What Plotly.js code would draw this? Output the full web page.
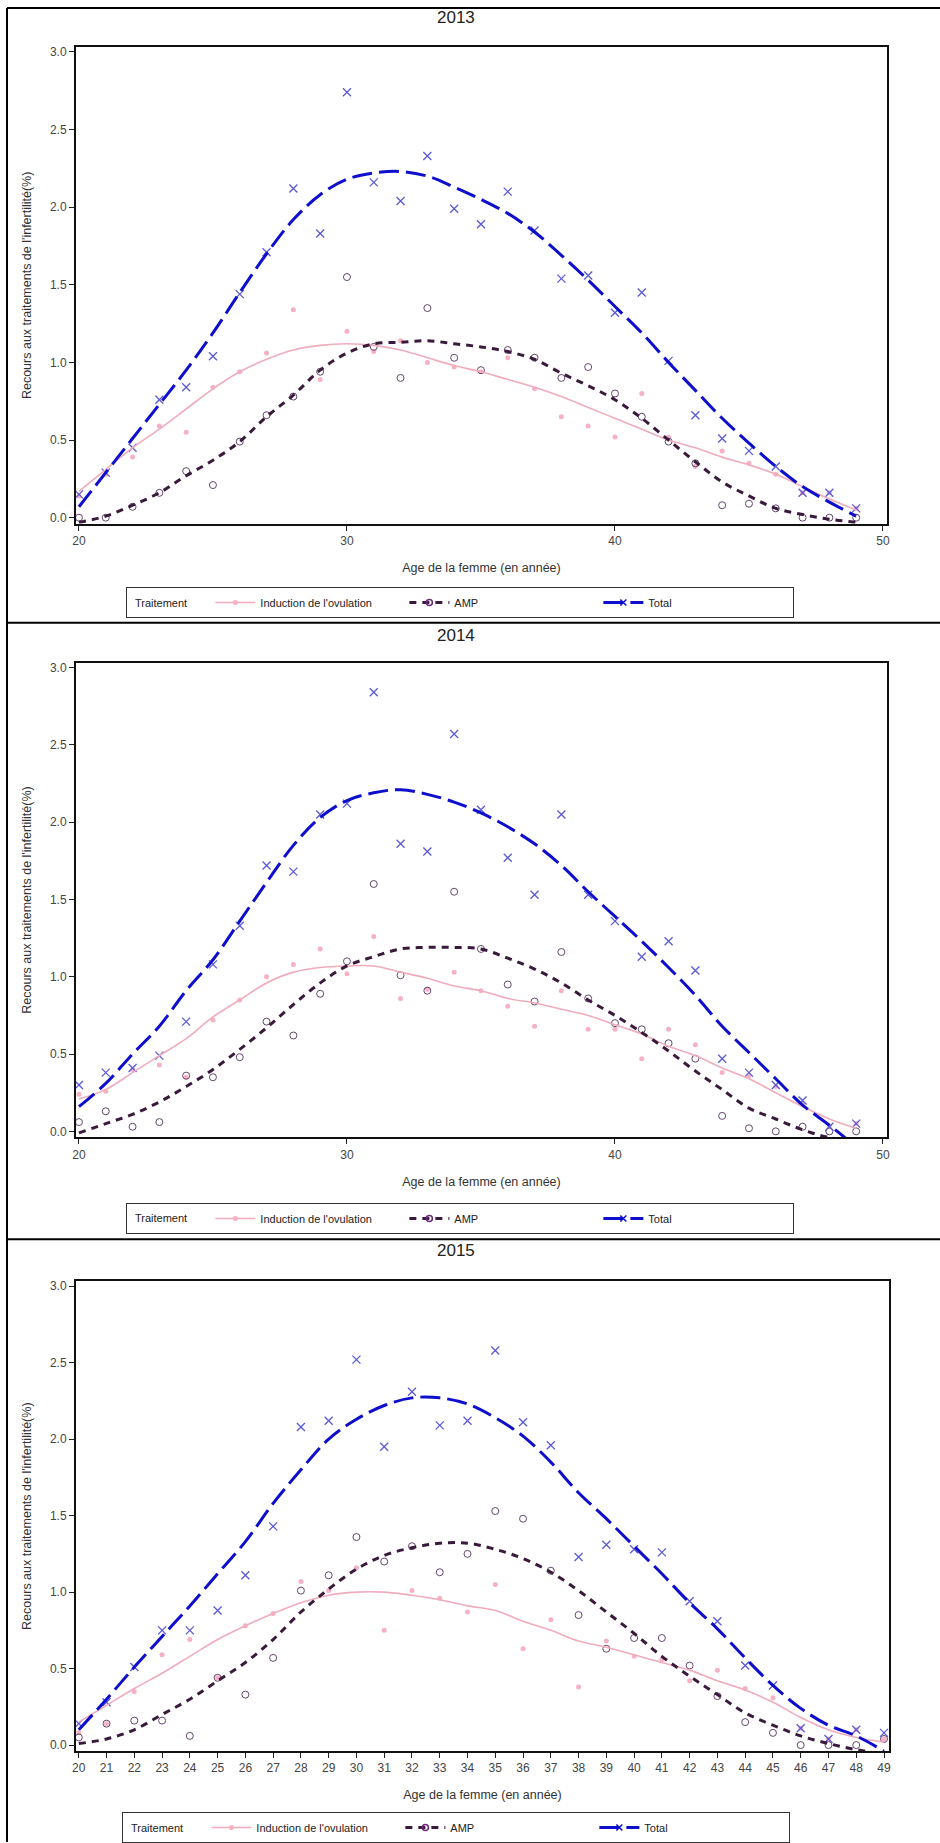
<!DOCTYPE html>
<html><head><meta charset="utf-8">
<script src="https://cdn.plot.ly/plotly-3.0.1.min.js"></script>
<style>html,body{margin:0;padding:0;background:#fff}#chart{width:940px;height:1843px}</style>
</head><body><div id="chart"></div>
<script>
// ---------- DATA ----------
const ages = [20,21,22,23,24,25,26,27,28,29,30,31,32,33,34,35,36,37,38,39,40,41,42,43,44,45,46,47,48,49];
const years = ['2013','2014','2015'];
const seriesNames = ["Induction de l'ovulation", 'AMP', 'Total'];
const legendTitle = 'Traitement';
const xTitle = 'Age de la femme (en année)';
const yTitle = "Recours aux traitements de l'infertilité(%)";
const yTicks = [0, 0.5, 1, 1.5, 2, 2.5, 3];
const xTicksCoarse = [20, 30, 40, 50];

// 2013 observed points
const induction2013 = [0.14,0.28,0.39,0.59,0.55,0.84,0.94,1.06,1.34,0.89,1.20,1.07,1.14,1.00,0.97,0.94,1.03,0.83,0.65,0.59,0.52,0.80,0.52,0.33,0.43,0.35,0.28,0.16,0.16,0.06];
const amp2013       = [0.00,0.00,0.07,0.16,0.30,0.21,0.49,0.66,0.78,0.94,1.55,1.10,0.90,1.35,1.03,0.95,1.08,1.03,0.90,0.97,0.80,0.65,0.49,0.35,0.08,0.09,0.06,0.00,0.00,0.00];
const total2013     = [0.15,0.29,0.45,0.76,0.84,1.04,1.44,1.71,2.12,1.83,2.74,2.16,2.04,2.33,1.99,1.89,2.10,1.85,1.54,1.56,1.32,1.45,1.01,0.66,0.51,0.43,0.33,0.16,0.16,0.06];
// 2013 smoothed curves
const inductionFit2013 = [0.17,0.31,0.45,0.57,0.70,0.83,0.94,1.02,1.08,1.11,1.12,1.11,1.08,1.03,0.98,0.94,0.89,0.84,0.78,0.71,0.64,0.57,0.50,0.45,0.39,0.34,0.28,0.20,0.12,0.05];
const ampFit2013       = [-0.03,0.01,0.08,0.16,0.27,0.37,0.49,0.65,0.79,0.95,1.06,1.12,1.13,1.14,1.12,1.10,1.07,1.02,0.93,0.85,0.76,0.64,0.50,0.36,0.23,0.14,0.06,0.02,-0.01,-0.03];
const totalFit2013     = [0.07,0.29,0.51,0.73,0.95,1.19,1.45,1.70,1.92,2.08,2.18,2.22,2.23,2.20,2.13,2.05,1.96,1.84,1.69,1.53,1.36,1.19,1.00,0.82,0.64,0.48,0.33,0.20,0.10,0.01];

// 2014 observed points
const induction2014 = [0.24,0.26,0.40,0.43,0.35,0.72,0.85,1.00,1.08,1.18,1.02,1.26,0.86,0.92,1.03,0.91,0.81,0.68,0.91,0.66,0.66,0.47,0.66,0.56,0.38,0.36,0.29,0.18,0.03,0.05];
const amp2014       = [0.06,0.13,0.03,0.06,0.36,0.35,0.48,0.71,0.62,0.89,1.10,1.60,1.01,0.91,1.55,1.18,0.95,0.84,1.16,0.86,0.70,0.66,0.57,0.47,0.10,0.02,0.00,0.03,0.00,0.00];
const total2014     = [0.30,0.38,0.41,0.49,0.71,1.08,1.33,1.72,1.68,2.05,2.12,2.84,1.86,1.81,2.57,2.08,1.77,1.53,2.05,1.53,1.36,1.13,1.23,1.04,0.47,0.38,0.30,0.20,0.03,0.05];
// 2014 smoothed curves
const inductionFit2014 = [0.21,0.27,0.38,0.49,0.60,0.74,0.85,0.96,1.03,1.06,1.07,1.07,1.03,0.99,0.94,0.91,0.86,0.83,0.79,0.75,0.69,0.63,0.55,0.49,0.41,0.34,0.25,0.16,0.08,0.02];
const ampFit2014       = [-0.01,0.05,0.11,0.19,0.29,0.40,0.53,0.67,0.82,0.96,1.07,1.13,1.18,1.19,1.19,1.18,1.12,1.05,0.96,0.85,0.75,0.64,0.52,0.39,0.27,0.15,0.08,0.01,-0.04,-0.06];
const totalFit2014     = [0.16,0.31,0.50,0.68,0.91,1.11,1.36,1.61,1.85,2.03,2.14,2.19,2.21,2.18,2.13,2.06,1.97,1.86,1.72,1.55,1.39,1.23,1.06,0.88,0.68,0.51,0.34,0.17,0.04,-0.10];

// 2015 observed points
const induction2015 = [0.08,0.14,0.35,0.59,0.69,0.44,0.78,0.86,1.07,1.01,1.16,0.75,1.01,0.96,0.87,1.05,0.63,0.82,0.38,0.68,0.58,0.56,0.42,0.49,0.37,0.31,0.11,0.04,0.10,0.04];
const amp2015       = [0.05,0.14,0.16,0.16,0.06,0.44,0.33,0.57,1.01,1.11,1.36,1.20,1.30,1.13,1.25,1.53,1.48,1.14,0.85,0.63,0.70,0.70,0.52,0.32,0.15,0.08,0.00,0.00,0.00,0.04];
const total2015     = [0.14,0.28,0.51,0.75,0.75,0.88,1.11,1.43,2.08,2.12,2.52,1.95,2.31,2.09,2.12,2.58,2.11,1.96,1.23,1.31,1.28,1.26,0.94,0.81,0.52,0.39,0.11,0.04,0.10,0.08];
// 2015 smoothed curves
const inductionFit2015 = [0.15,0.26,0.37,0.47,0.58,0.69,0.78,0.86,0.93,0.98,1.00,1.00,0.98,0.95,0.91,0.88,0.81,0.75,0.68,0.64,0.59,0.54,0.49,0.42,0.36,0.28,0.18,0.10,0.05,0.02];
const ampFit2015       = [0.01,0.04,0.10,0.20,0.30,0.42,0.54,0.69,0.87,1.02,1.15,1.24,1.29,1.32,1.32,1.28,1.22,1.13,1.01,0.87,0.73,0.58,0.45,0.33,0.21,0.13,0.06,0.01,-0.03,-0.06];
const totalFit2015     = [0.10,0.30,0.51,0.71,0.91,1.12,1.33,1.58,1.80,2.00,2.13,2.22,2.27,2.27,2.23,2.14,2.02,1.85,1.65,1.48,1.30,1.12,0.93,0.76,0.57,0.39,0.24,0.13,0.06,-0.04];

// ---------- STYLE / LAYOUT ----------
const W = 940, H = 1843;
const FONT = 'Liberation Sans, Arial, sans-serif';
const px = v => v / W;
const py = v => 1 - v / H;

const pinkLine = 'rgb(240,172,188)', pinkMark = 'rgb(246,178,196)';
const ampLine = 'rgb(58,26,60)', ampMark = 'rgb(100,70,110)';
const totLine = 'rgb(14,14,205)', totMark = 'rgb(90,90,215)';

const panels = [
  {obs: [induction2013, amp2013, total2013], fit: [inductionFit2013, ampFit2013, totalFit2013]},
  {obs: [induction2014, amp2014, total2014], fit: [inductionFit2014, ampFit2014, totalFit2014]},
  {obs: [induction2015, amp2015, total2015], fit: [inductionFit2015, ampFit2015, totalFit2015]}
];
// pixel boxes of each plot area [left, right, top, bottom]
const boxes = [[76, 887, 47, 524], [76, 887, 663, 1138], [76, 889, 1282, 1752]];
const xRanges = [[19.89, 50.15], [19.89, 50.15], [19.9, 49.18]];
const legendBoxes = [[126, 587], [126, 1203], [122, 1813]];
const titleY = [18, 636, 1251];

const markerStyles = [
  {symbol: 'circle', size: 5, color: pinkMark},
  {symbol: 'circle-open', size: 7, color: ampMark, line: {width: 1, color: ampMark}},
  {symbol: 'x-thin-open', size: 8, color: totMark, line: {width: 1.3, color: totMark}}
];
const lineStyles = [
  {color: pinkLine, width: 1.6, dash: 'solid', shape: 'spline', smoothing: 1},
  {color: ampLine, width: 3, dash: '7px,6px', shape: 'spline', smoothing: 1},
  {color: totLine, width: 3, dash: '20px,7px', shape: 'spline', smoothing: 1}
];
const legendMarkers = [
  {symbol: 'circle', size: 5, color: pinkMark},
  {symbol: 'circle-open', size: 6, color: 'rgb(110,40,120)', line: {width: 1.5, color: 'rgb(110,40,120)'}},
  {symbol: 'x-thin-open', size: 6, color: totLine, line: {width: 1.5, color: totLine}}
];

const traces = [];
const layout = {
  width: W, height: H,
  margin: {l: 0, r: 0, t: 0, b: 0},
  paper_bgcolor: '#fff', plot_bgcolor: '#fff',
  font: {family: FONT, color: '#333'},
  showlegend: true,
  annotations: [], shapes: []
};

panels.forEach((p, i) => {
  const sfx = i === 0 ? '' : String(i + 1);
  const xa = 'x' + sfx, ya = 'y' + sfx, lg = 'legend' + sfx;
  const [l, r, t, b] = boxes[i];
  for (let s = 0; s < 3; s++) {
    traces.push({type: 'scatter', mode: 'markers', x: ages, y: p.obs[s], xaxis: xa, yaxis: ya,
      marker: markerStyles[s], showlegend: false, hoverinfo: 'skip', cliponaxis: true});
  }
  for (let s = 0; s < 3; s++) {
    traces.push({type: 'scatter', mode: 'lines', x: ages, y: p.fit[s], xaxis: xa, yaxis: ya,
      line: lineStyles[s], showlegend: false, hoverinfo: 'skip'});
  }
  for (let s = 0; s < 3; s++) {
    traces.push({type: 'scatter', mode: 'lines+markers', x: [null], y: [null], xaxis: xa, yaxis: ya,
      name: seriesNames[s], legend: lg, showlegend: true,
      line: Object.assign({}, lineStyles[s], {shape: 'linear'}), marker: legendMarkers[s]});
  }
  layout['xaxis' + sfx] = {
    domain: [px(l), px(r)], anchor: ya, range: xRanges[i],
    tickmode: 'array', tickvals: i === 2 ? ages : xTicksCoarse,
    ticks: 'outside', ticklen: 5, tickwidth: 1, tickcolor: '#222',
    showline: true, linewidth: 2, linecolor: '#111', mirror: true,
    showgrid: false, zeroline: false,
    tickfont: {size: 12, color: '#444', family: FONT},
    title: {text: xTitle, font: {size: 12.5, color: '#333', family: FONT}, standoff: 16}
  };
  layout['yaxis' + sfx] = {
    domain: [py(b), py(t)], anchor: xa, range: [-0.039, 3.032],
    tickmode: 'array', tickvals: yTicks, tickformat: '.1f',
    ticks: 'outside', ticklen: 5, tickwidth: 1, tickcolor: '#222',
    showline: true, linewidth: 2, linecolor: '#111', mirror: true,
    showgrid: false, zeroline: false,
    tickfont: {size: 12, color: '#444', family: FONT},
    title: {text: yTitle, font: {size: 12.5, color: '#333', family: FONT}, standoff: 16}
  };
  const [lx, ly] = legendBoxes[i];
  layout[lg] = {
    x: px(lx), y: py(ly), xanchor: 'left', yanchor: 'top', orientation: 'h',
    bgcolor: '#fff', bordercolor: '#333', borderwidth: 1,
    font: {size: 11, color: '#222', family: FONT},
    // blank title reserves the room where the legend label sits
    title: {text: '&nbsp;'.repeat(24), side: 'left', font: {size: 11, color: '#222', family: FONT}},
    itemwidth: 40, entrywidth: 139, entrywidthmode: 'pixels',
    itemclick: false, itemdoubleclick: false
  };
  layout.annotations.push({text: legendTitle, xref: 'paper', yref: 'paper', x: px(lx + 7), y: py(ly + 16),
    xanchor: 'left', yanchor: 'middle', showarrow: false, font: {size: 11, color: '#222', family: FONT}});
  layout.annotations.push({text: years[i], xref: 'paper', yref: 'paper', x: px(456), y: py(titleY[i]),
    xanchor: 'center', yanchor: 'middle', showarrow: false, font: {size: 17, color: '#222', family: FONT}});
});

// table frame lines
const frame = {type: 'line', xref: 'paper', yref: 'paper', line: {color: '#000', width: 2}};
layout.shapes.push(Object.assign({}, frame, {x0: px(7), x1: px(7), y0: py(8), y1: 0}));
[8, 623, 1240].forEach(yy => layout.shapes.push(Object.assign({}, frame, {x0: px(7), x1: 1, y0: py(yy), y1: py(yy)})));

Plotly.newPlot('chart', traces, layout, {displayModeBar: false, staticPlot: true});
</script>
</body></html>
